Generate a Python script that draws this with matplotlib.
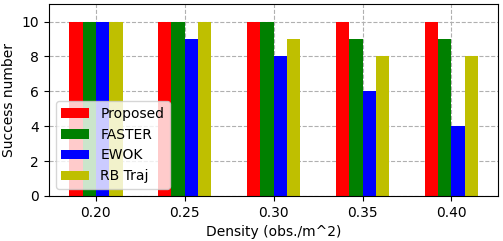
import numpy as np
import matplotlib.pyplot as plt

densities = [0.20, 0.25, 0.30, 0.35, 0.40]
tick_labels = ['0.20', '0.25', '0.30', '0.35', '0.40']
proposed = [10, 10, 10, 10, 10]
faster = [10, 10, 10, 9, 9]
ewok = [10, 9, 8, 6, 4]
rb_traj = [10, 10, 9, 8, 8]

x = np.array(densities)
w = 0.0075

fig = plt.figure(figsize=(5.03, 2.41), dpi=100)
ax = fig.add_subplot(111)
ax.grid(True, linestyle='--', color='#b0b0b0', zorder=0)
ax.set_axisbelow(True)

ax.bar(x - 2 * w, proposed, w, align='edge', color='r', label='Proposed')
ax.bar(x - w, faster, w, align='edge', color='g', label='FASTER')
ax.bar(x, ewok, w, align='edge', color='b', label='EWOK')
ax.bar(x + w, rb_traj, w, align='edge', color='y', label='RB Traj')

ax.set_xticks(x)
ax.set_xticklabels(tick_labels)
ax.set_ylim(0, 11)
ax.set_yticks([0, 2, 4, 6, 8, 10])
ax.set_xlabel('Density (obs./m^2)')
ax.set_ylabel('Success number')
ax.legend(loc='lower left')

plt.subplots_adjust(left=0.097, right=0.991, top=0.983, bottom=0.187)
plt.savefig('out.png')
